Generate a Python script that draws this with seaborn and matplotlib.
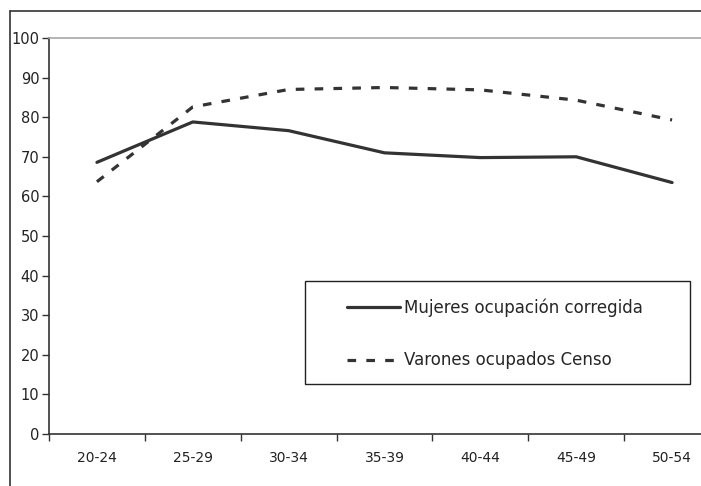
import numpy as np
import pandas as pd
import matplotlib
matplotlib.use('Agg')
import matplotlib.pyplot as plt
import seaborn as sns
from matplotlib.lines import Line2D
from matplotlib.patches import Rectangle

ages = ["20-24", "25-29", "30-34", "35-39", "40-44", "45-49", "50-54"]
mujeres = [68.6, 78.8, 76.6, 71.0, 69.8, 70.0, 63.5]
varones = [63.7, 82.6, 87.0, 87.5, 86.9, 84.3, 79.3]
lab_muj = "Mujeres ocupación corregida"
lab_var = "Varones ocupados Censo"

sns.set_theme(style="white")
plt.rcParams['font.family'] = ['DejaVu Sans']

pos = np.arange(len(ages))
df = pd.DataFrame({"pos": np.concatenate([pos, pos]),
                   "valor": mujeres + varones,
                   "serie": [lab_muj] * len(ages) + [lab_var] * len(ages)})

fig = plt.figure(figsize=(7.01, 4.86), dpi=100)
ax = fig.add_axes([49 / 701, 52 / 486, 671 / 701, 396 / 486])

line_col = "#333333"
sns.lineplot(data=df, x="pos", y="valor", hue="serie", style="serie",
             palette=[line_col, line_col],
             dashes={lab_muj: "", lab_var: (2.7, 3.2)},
             linewidth=2.3, ax=ax, legend=False)

ax.set_xlim(-0.5, len(ages) - 0.5)
ax.set_ylim(0, 100)
ax.set_yticks(range(0, 101, 10))
ax.set_xticks(pos)
ax.set_xticklabels(ages)
ax.set_xticks(np.arange(-0.5, len(ages), 1.0), minor=True)
ax.tick_params(axis='x', which='major', length=0, pad=12, labelsize=10, colors='#222222')
ax.tick_params(axis='x', which='minor', bottom=True, length=5, width=1, color='#333333')
ax.tick_params(axis='y', left=True, length=5, width=1, color='#333333', pad=2,
               labelsize=10.5, labelcolor='#222222')
ax.set_xlabel("")
ax.set_ylabel("")

for s in ["left", "bottom"]:
    ax.spines[s].set_color("#333333")
    ax.spines[s].set_linewidth(1.2)
ax.spines["top"].set_color("#a8a8a8")
ax.spines["top"].set_linewidth(1.2)
ax.spines["right"].set_visible(False)

# legend box drawn separately, entries without frame
ax.add_patch(Rectangle((256 / 671, 50 / 396), 385 / 671, 103 / 396,
                       transform=ax.transAxes, fill=False, edgecolor="#222222",
                       linewidth=1, zorder=5))
handles = [Line2D([], [], color=line_col, lw=2.3),
           Line2D([], [], color=line_col, lw=2.3, dashes=(2.7, 3.2))]
ax.legend(handles, [lab_muj, lab_var], loc="center left",
          bbox_to_anchor=(298 / 671, 100 / 396), frameon=False,
          fontsize=12, handlelength=3.2, handletextpad=0.25,
          labelspacing=2.05, borderpad=0, borderaxespad=0)

# outer chart frame (cropped)
fig.add_artist(Line2D([10 / 701, 10 / 701], [0, 1 - 11 / 486],
                      transform=fig.transFigure, color="#333333", lw=1.2))
fig.add_artist(Line2D([10 / 701, 1], [1 - 11 / 486, 1 - 11 / 486],
                      transform=fig.transFigure, color="#333333", lw=1.2))

fig.savefig("out.png", dpi=100)
plt.close()
